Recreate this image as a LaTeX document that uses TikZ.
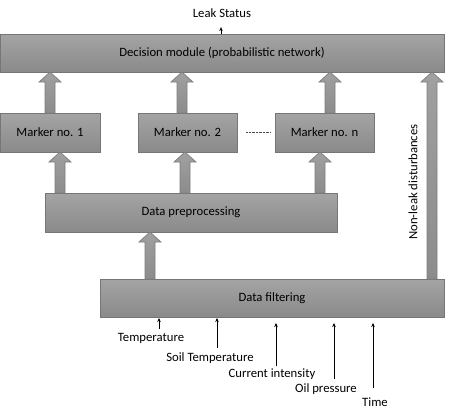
\documentclass[tikz,border=0pt]{standalone}
\usepackage{fontspec}
\setmainfont{Carlito}
\usepackage{xcolor}
\usepackage{tikz}
\usetikzlibrary{calc,arrows.meta,positioning}
\definecolor{boxtop}{HTML}{A4A4A4}
\definecolor{boxbot}{HTML}{8A8A8A}
\definecolor{boxline}{HTML}{767676}
\definecolor{arrtop}{HTML}{A0A0A0}
\definecolor{arrbot}{HTML}{8C8C8C}
\definecolor{arrline}{HTML}{7E7E7E}
\tikzset{
  box/.style={draw=boxline,top color=boxtop,bottom color=boxbot,line width=0.8pt,
    minimum height=39pt,inner sep=0pt,outer sep=0pt,font=\fontsize{12.7}{15}\selectfont},
  lbl/.style={inner sep=1pt,font=\fontsize{12.7}{15}\selectfont},
  fatarrow/.style={draw=arrline,top color=arrtop,bottom color=arrbot,line width=0.7pt,
    to path={let \p1=(\tikztostart),\p2=(\tikztotarget) in
      (\x1-5pt,\y1) -- (\x1-5pt,\y2-10pt) -- (\x1-11pt,\y2-10pt) -- (\x1,\y2)
      -- (\x1+11pt,\y2-10pt) -- (\x1+5pt,\y2-10pt) -- (\x1+5pt,\y1) -- cycle}},
  inarrow/.style={-{Stealth[length=4pt,width=3.5pt]},line width=0.6pt}
}
\begin{document}
\begin{tikzpicture}[x=1pt,y=-1pt]
	\useasboundingbox (0,0) rectangle (452,418);
	% boxes
	\node[box,minimum width=444pt,minimum height=38pt] (dec) at (222,53) {Decision module (probabilistic network)};
	\node[box,minimum width=100pt] (m1) at (50,132.5) {Marker no. 1};
	\node[box,minimum width=99pt] (m2) at (187.5,132.5) {Marker no. 2};
	\node[box,minimum width=99pt] (mn) at (324.5,132.5) {Marker no. n};
	\node[box,minimum width=292pt] (pre) at (191,212.5) {Data preprocessing};
	\node[box,minimum width=344pt,minimum height=38pt] (filt) at (272,298) {Data filtering};
	\draw[densely dotted,gray!60!black] ([xshift=9pt]m2.east) -- ([xshift=-4pt]mn.west);
	% thick arrows
	\draw[fatarrow] (m1.north) to (m1.north |- dec.south);
	\draw[fatarrow] ([xshift=-5.5pt]m2.north) to ([xshift=-5.5pt]m2.north |- dec.south);
	\draw[fatarrow] ([xshift=5.5pt]mn.north) to ([xshift=5.5pt]mn.north |- dec.south);
	\draw[fatarrow] ([xshift=10pt]m1.south |- pre.north) to ([xshift=10pt]m1.south);
	\draw[fatarrow] ([xshift=-2.5pt]m2.south |- pre.north) to ([xshift=-2.5pt]m2.south);
	\draw[fatarrow] ([xshift=-4.5pt]mn.south |- pre.north) to ([xshift=-4.5pt]mn.south);
	\draw[fatarrow] ([xshift=-41pt]pre.south |- filt.north) to ([xshift=-41pt]pre.south);
	\draw[fatarrow] ([xshift=-12pt]filt.north east) to ([xshift=-12pt]filt.north east |- dec.south);
	\node[lbl,rotate=90] (nonleak) at (413,182) {Non-leak disturbances};
	% output
	\node[lbl] (leak) at (222,13) {Leak Status};
	\draw[inarrow] ([xshift=-1pt]leak.south |- dec.north) -- ([xshift=-1pt,yshift=-8.5pt]leak.south);
	% inputs
	\node[lbl] (temp) at (151,338) {Temperature};
	\node[lbl] (soil) at (210,358) {Soil Temperature};
	\node[lbl] (curr) at (272,374) {Current intensity};
	\node[lbl] (oil) at (326,389) {Oil pressure};
	\node[lbl] (time) at (375,402) {Time};
	\draw[inarrow] ([xshift=8pt,yshift=3pt]temp.north) -- ([xshift=8pt,yshift=-1pt]temp.north |- filt.south);
	\draw[inarrow] ([xshift=7pt,yshift=3pt]soil.north) -- ([xshift=7pt,yshift=-1pt]soil.north |- filt.south);
	\draw[inarrow] ([xshift=4pt,yshift=1pt]curr.north) -- ([xshift=4pt,yshift=-6pt]curr.north |- filt.south);
	\draw[inarrow] ([xshift=8pt,yshift=3pt]oil.north) -- ([xshift=8pt,yshift=-6pt]oil.north |- filt.south);
	\draw[inarrow] ([xshift=-2pt,yshift=8pt]time.north) -- ([xshift=-2pt,yshift=-6pt]time.north |- filt.south);
\end{tikzpicture}
\end{document}
